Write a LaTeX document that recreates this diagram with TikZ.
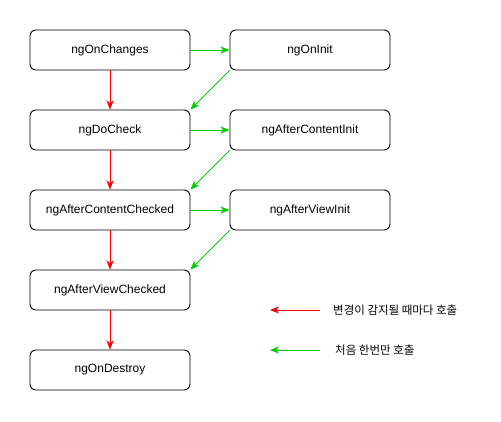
\documentclass[tikz,border=0pt]{standalone}
\usepackage{fontspec}
\setmainfont{Liberation Sans}
\newfontfamily\krfont{Noto Sans CJK KR}
\usetikzlibrary{arrows.meta}
\definecolor{chgred}{HTML}{FF0000}
\definecolor{initgreen}{HTML}{00CC00}
\begin{document}
\begin{tikzpicture}[x=1pt,y=-1pt,
  hook/.style={draw=black, line width=0.9pt, rounded corners=6pt, minimum width=160pt, minimum height=40pt, inner sep=0pt, font=\fontsize{12pt}{14pt}\selectfont, fill=white},
  redarr/.style={draw=chgred, line width=0.9pt, -{Stealth[length=9pt,width=7pt,inset=2.5pt]}},
  greenarr/.style={draw=initgreen, line width=0.9pt, -{Stealth[length=9pt,width=7pt,inset=2.5pt]}},
  legend/.style={font=\krfont\fontsize{11.5pt}{13pt}\selectfont, inner sep=0pt}
]
\useasboundingbox (0,0) rectangle (501,421);
\fill[white] (0,0) rectangle (501,421);

\node[hook] (chg) at (110,50) {ngOnChanges};
\node[hook] (dochk) at (110,130) {ngDoCheck};
\node[hook] (acc) at (110,210) {ngAfterContentChecked};
\node[hook] (avc) at (110,290) {ngAfterViewChecked};
\node[hook] (destroy) at (110,370) {ngOnDestroy};

\node[hook] (init) at (310,50) {ngOnInit};
\node[hook] (aci) at (310,130) {ngAfterContentInit};
\node[hook] (avi) at (310,210) {ngAfterViewInit};

\draw[redarr] (chg) -- (dochk);
\draw[redarr] (dochk) -- (acc);
\draw[redarr] (acc) -- (avc);
\draw[redarr] (avc) -- (destroy);

\draw[greenarr] (chg) -- (init);
\draw[greenarr] (dochk) -- (aci);
\draw[greenarr] (acc) -- (avi);

\draw[greenarr] (init.south west) -- (dochk.north east);
\draw[greenarr] (aci.south west) -- (acc.north east);
\draw[greenarr] (avi.south west) -- (avc.north east);

\coordinate (r1) at (320,310);
\coordinate (r2) at (270,310);
\coordinate (g1) at (320,350);
\coordinate (g2) at (270,350);
\draw[redarr] (r1) -- (r2);
\draw[greenarr] (g1) -- (g2);
\node[legend, anchor=west] (lred) at (333,310) {변경이 감지될 때마다 호출};
\node[legend, anchor=west] (lgreen) at (335,350) {처음 한번만 호출};
\end{tikzpicture}
\end{document}
